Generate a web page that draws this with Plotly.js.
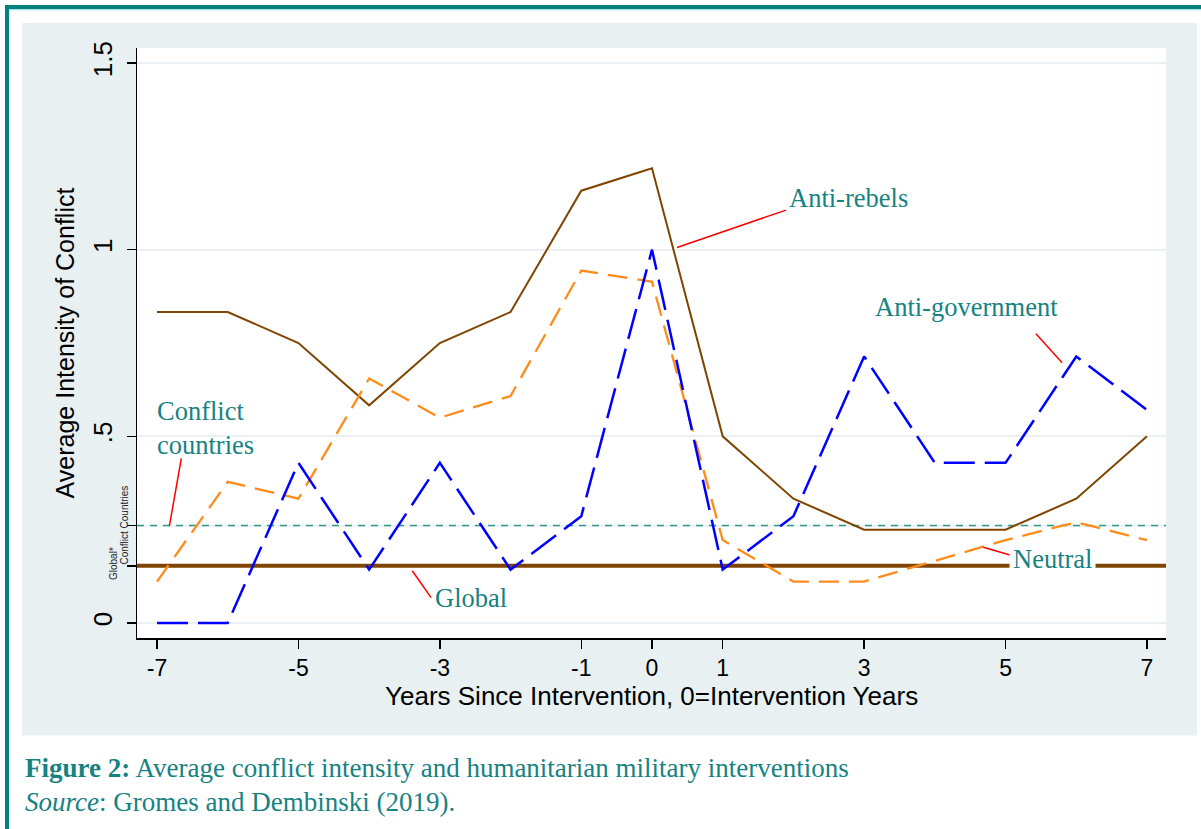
<!DOCTYPE html>
<html>
<head>
<meta charset="utf-8">
<script src="https://cdn.plot.ly/plotly-3.0.1.min.js"></script>
<style>html,body{margin:0;padding:0;background:#fff;}#chart{width:1201px;height:829px;}</style>
</head>
<body>
<div id="chart"></div>
<script>
// ---- data ----
const years = [-7, -6, -5, -4, -3, -2, -1, 0, 1, 2, 3, 4, 5, 6, 7];
const antiRebels = [0.833, 0.833, 0.75, 0.583, 0.75, 0.833, 1.158, 1.218, 0.5, 0.333, 0.25, 0.25, 0.25, 0.333, 0.5];
const neutral = [0.111, 0.378, 0.333, 0.655, 0.55, 0.608, 0.944, 0.914, 0.222, 0.111, 0.111, 0.166, 0.222, 0.27, 0.222];
const antiGovernment = [0, 0, 0.429, 0.143, 0.429, 0.143, 0.286, 1.0, 0.143, 0.286, 0.714, 0.429, 0.429, 0.714, 0.571];
const globalAvg = 0.153;
const conflictAvg = 0.261;
const xRange = [-7.283, 7.269];
const yRange = [-0.0402, 1.5402];
const xTickVals = [-7, -5, -3, -1, 0, 1, 3, 5, 7];
const xTickText = ["-7", "-5", "-3", "-1", "0", "1", "3", "5", "7"];
const yTickVals = [0, globalAvg, conflictAvg, 0.5, 1, 1.5];
const yTickText = ["0", "", "", ".5", "1", "1.5"];

// ---- layout helpers (pixel -> paper) ----
const W = 1201, H = 829, PL = 137, PR = 1166, PT = 48, PB = 638;
const px = v => (v - PL) / (PR - PL);
const py = v => (PB - v) / (PB - PT);

const TEAL = "#168282";
const SERIF = "Liberation Serif, Times New Roman, serif";
const SANS = "Liberation Sans, Arial, sans-serif";

const traces = [
  {x: xRange, y: [conflictAvg, conflictAvg], name: "Conflict countries", mode: "lines", line: {color: "#2f9a84", width: 1.5, dash: "7px,6px"}},
  {x: xRange, y: [globalAvg, globalAvg], name: "Global", mode: "lines", line: {color: "#7f4500", width: 4}},
  {x: years, y: antiRebels, name: "Anti-rebels", mode: "lines", line: {color: "#7f4500", width: 2}},
  {x: years, y: neutral, name: "Neutral", mode: "lines", line: {color: "#ff8c1a", width: 2.3, dash: "20px,10px"}},
  {x: years, y: antiGovernment, name: "Anti-government", mode: "lines", line: {color: "#0000ff", width: 2.5, dash: "31px,10px"}}
];

const labels = [
  {text: "Anti-rebels", x: 1.88, y: 1.138},
  {text: "Anti-government", x: 3.10, y: 0.846},
  {text: "Conflict<br>countries", x: -7.05, y: 0.522},
  {text: "Global", x: -3.12, y: 0.066},
  {text: "Neutral", x: 5.05, y: 0.172, bg: "#ffffff"}
];
const pointers = [
  [0.354, 1.006, 1.895, 1.106],
  [5.43, 0.775, 5.80, 0.697],
  [-6.656, 0.441, -6.825, 0.260],
  [-3.39, 0.140, -3.125, 0.068],
  [4.685, 0.203, 5.063, 0.182]
];

const shapes = [
  {type: "rect", xref: "paper", yref: "paper", x0: px(22), x1: px(1197), y0: py(735.5), y1: py(23), fillcolor: "#e8f0f2", line: {width: 0}, layer: "below"},
  {type: "rect", xref: "paper", yref: "paper", x0: 0, x1: 1, y0: 0, y1: 1, fillcolor: "#ffffff", line: {width: 0}, layer: "below"},
  {type: "line", xref: "paper", yref: "paper", x0: px(5), x1: px(1201), y0: py(7), y1: py(7), line: {color: "#00807f", width: 4}, layer: "above"},
  {type: "line", xref: "paper", yref: "paper", x0: px(9), x1: px(1201), y0: py(9.8), y1: py(9.8), line: {color: "#8fd6d6", width: 1}, layer: "above"},
  {type: "line", xref: "paper", yref: "paper", x0: px(7), x1: px(7), y0: py(5), y1: py(829), line: {color: "#00807f", width: 4}, layer: "above"}
];
pointers.forEach(p => shapes.push({type: "line", xref: "x", yref: "y", x0: p[0], y0: p[1], x1: p[2], y1: p[3], line: {color: "#ff0000", width: 1.5}, layer: "above"}));

const annotations = labels.map(l => ({
  text: l.text, x: l.x, y: l.y, xref: "x", yref: "y", xanchor: "left", yanchor: "middle", align: "left",
  showarrow: false, font: {family: SERIF, size: 26.5, color: TEAL},
  bgcolor: l.bg || "rgba(0,0,0,0)", borderpad: 3
}));
annotations.push(
  {text: "Global*", xref: "paper", yref: "y", x: px(113), y: globalAvg + 0.005, textangle: -90, showarrow: false,
   font: {family: SANS, size: 10, color: "#222"}, xanchor: "center", yanchor: "middle"},
  {text: "Conflict Countries", xref: "paper", yref: "y", x: px(125), y: conflictAvg, textangle: -90, showarrow: false,
   font: {family: SANS, size: 10, color: "#222"}, xanchor: "center", yanchor: "middle"},
  {text: "Years Since Intervention, 0=Intervention Years", xref: "paper", yref: "paper",
   x: px(651), y: py(696), xanchor: "center", yanchor: "middle", showarrow: false, font: {family: SANS, size: 26, color: "#000"}},
  {text: "<b>Figure 2:</b> Average conflict intensity and humanitarian military interventions", xref: "paper", yref: "paper",
   x: px(23), y: py(768), xanchor: "left", yanchor: "middle", showarrow: false, font: {family: SERIF, size: 27, color: TEAL}},
  {text: "<i>Source</i>: Gromes and Dembinski (2019).", xref: "paper", yref: "paper",
   x: px(23), y: py(802), xanchor: "left", yanchor: "middle", showarrow: false, font: {family: SERIF, size: 27, color: TEAL}}
);

const layout = {
  width: W, height: H,
  margin: {l: PL, r: W - PR, t: PT, b: H - PB, pad: 0},
  paper_bgcolor: "#ffffff", plot_bgcolor: "#ffffff",
  showlegend: false,
  xaxis: {
    range: xRange, tickmode: "array", tickvals: xTickVals, ticktext: xTickText,
    ticks: "outside", ticklen: 9, tickwidth: 1.5, tickcolor: "#000",
    tickfont: {family: SANS, size: 23, color: "#000"}, ticklabelstandoff: 0,
    showgrid: false, zeroline: false, showline: true, linecolor: "#000", linewidth: 1.5,
    automargin: false
  },
  yaxis: {
    range: yRange, tickmode: "array", tickvals: yTickVals, ticktext: yTickText,
    ticks: "outside", ticklen: 9, tickwidth: 1.5, tickcolor: "#000", tickangle: -90,
    tickfont: {family: SANS, size: 26, color: "#000"}, ticklabelstandoff: 4,
    showgrid: true, gridcolor: "#eaf0f3", gridwidth: 2, zeroline: false,
    showline: true, linecolor: "#000", linewidth: 1.5,
    title: {text: "Average Intensity of Conflict", font: {family: SANS, size: 25, color: "#000"}, standoff: 6},
    automargin: false
  },
  shapes: shapes,
  annotations: annotations
};

Plotly.newPlot("chart", traces, layout, {displayModeBar: false, staticPlot: true});
</script>
</body>
</html>
